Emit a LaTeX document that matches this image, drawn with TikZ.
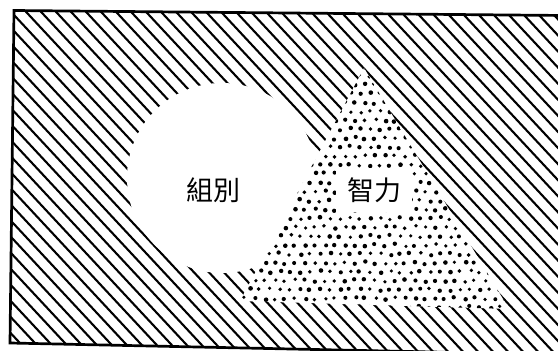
\documentclass[tikz,border=0pt]{standalone}
\usepackage{fontspec}
\newfontfamily\cjk{Noto Sans CJK TC}
\begin{document}
\begin{tikzpicture}[x=1pt,y=-1pt,
  hatch/.style={line width=2.1pt},
  frame/.style={line width=2.7pt, line join=miter},
  dotfill/.style={fill=black},
  lbl/.style={font=\cjk\fontsize{27}{27}\selectfont, inner sep=0pt}]
\useasboundingbox (0,0) rectangle (558,351);
\fill[white] (0,0) rectangle (558,351);
\coordinate (TL) at (14,10.5);
\coordinate (TR) at (620,16);
\coordinate (BL) at (10,343);
\coordinate (BR) at (620,356);
% hatching
\begin{scope}
  \clip (TL) -- (TR) -- (BR) -- (BL) -- cycle;
  \foreach \k in {-25,...,40} {
    \draw[hatch] ({15*\k-300},-321.7) -- ({15*\k+400},428.9);
  }
\end{scope}
% white circle
\coordinate (O) at (222,178);
\fill[white] (O) circle (95pt);
% dotted triangle
\coordinate (A) at (364,68);
\coordinate (B) at (240,301);
\coordinate (C) at (509,309);
\fill[white] (A) -- (B) -- (C) -- cycle;
\begin{scope}
  \clip (A) -- (B) -- (C) -- cycle;
  \pgfmathsetseed{7}
  \foreach \j in {0,...,27} {
    \foreach \i in {0,...,28} {
      \pgfmathsetmacro\px{235+10*\i+5*mod(\j,2)+1.4*rand}
      \pgfmathsetmacro\py{67+8.9*\j+1.4*rand}
      \pgfmathsetmacro\pr{2.05+0.3*rand}
      \fill[dotfill] (\px,\py) circle (\pr pt);
    }
  }
\end{scope}
% frame
\draw[frame] (TR) -- (TL) -- (BL) -- (BR);
% labels
\node[lbl] (zubie) at (213,190) {組別};
\node[lbl, fill=white, minimum width=76pt, minimum height=44pt] (zhili) at (374,190) {智力};
\end{tikzpicture}
\end{document}
